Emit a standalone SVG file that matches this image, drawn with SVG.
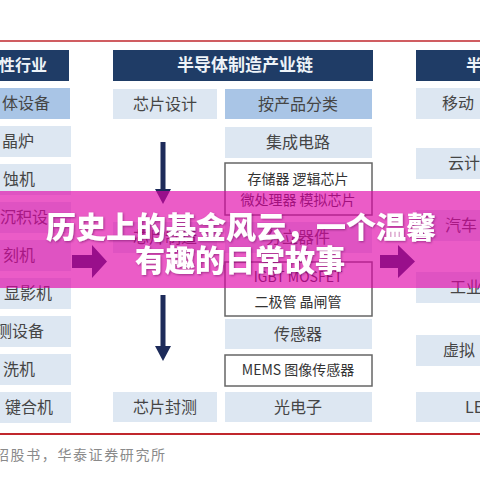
<svg xmlns="http://www.w3.org/2000/svg" width="480" height="480" viewBox="0 0 480 480">
<style>
text{font-family:"Noto Sans CJK SC","Noto Sans",sans-serif;}
.hd{fill:#1f3c66;}
.hdt{fill:#eef3f8;font-size:16px;font-weight:700;}
.lt{fill:#dde7f2;}
.md{fill:#a9c5e6;}
.ob{fill:#ffffff;stroke:#666666;stroke-width:1.5;}
.t{fill:#454545;font-size:16px;}
.ts{fill:#333333;font-size:14px;}
.c{text-anchor:middle;}
.e{text-anchor:end;}
.red{stroke:#c0272d;}
.arr{fill:#1d2b5a;}
.ttl{fill:#ffffff;font-size:30px;font-weight:900;text-anchor:middle;}
</style>
<defs>
<filter id="sh" x="-10%" y="-30%" width="120%" height="160%">
<feDropShadow dx="1" dy="1" stdDeviation="1" flood-color="#5a0050" flood-opacity="0.5"/>
</filter>
</defs>
<rect width="480" height="480" fill="#ffffff"/>
<line class="red" x1="0" y1="41" x2="480" y2="41" stroke-width="1.5"/>
<line class="red" x1="0" y1="434" x2="480" y2="434" stroke-width="2"/>

<g id="left-column">
<rect class="hd" x="-2" y="50" width="71" height="31"/>
<text class="hdt e" x="47" y="71">性行业</text>
<rect class="md" x="-2" y="88" width="72" height="31"/>
<text class="t e" x="50" y="109">体设备</text>
<rect class="lt" x="-2" y="126" width="73" height="31"/>
<text class="t e" x="34" y="147">晶炉</text>
<rect class="lt" x="-2" y="164" width="73" height="31"/>
<text class="t e" x="35" y="185">蚀机</text>
<rect class="lt" x="-2" y="202" width="73" height="31"/>
<text class="t e" x="48" y="223">沉积设</text>
<rect class="lt" x="-2" y="240" width="73" height="31"/>
<text class="t e" x="35" y="261">刻机</text>
<rect class="lt" x="-2" y="278" width="73" height="31"/>
<text class="t e" x="52" y="299">显影机</text>
<rect class="lt" x="-2" y="316" width="73" height="31"/>
<text class="t e" x="44" y="337">测设备</text>
<rect class="lt" x="-2" y="354" width="73" height="31"/>
<text class="t e" x="35" y="375">洗机</text>
<rect class="lt" x="-2" y="392" width="73" height="31"/>
<text class="t e" x="53" y="413">键合机</text>
</g>

<g id="chain-header">
<rect class="hd" x="113" y="50" width="260" height="31"/>
<text class="hdt c" x="245" y="71" style="font-size:17px">半导体制造产业链</text>
</g>

<g id="chip-design"><rect class="lt" x="113" y="89" width="104" height="30"/><text class="t c" x="165" y="110">芯片设计</text></g>
<g id="chip-making"><rect class="lt" x="113" y="222" width="104" height="31"/><text class="t c" x="165" y="243">芯片制造</text></g>
<g id="chip-packaging"><rect class="lt" x="113" y="392" width="104" height="30"/><text class="t c" x="165" y="413">芯片封测</text></g>

<g id="by-product"><rect class="md" x="225" y="89" width="147" height="30"/><text class="t c" x="298" y="110">按产品分类</text></g>
<g id="ic"><rect class="lt" x="225" y="127" width="147" height="31"/><text class="t c" x="298" y="148">集成电路</text></g>
<g id="ic-types"><rect class="ob" x="225" y="163" width="147" height="52"/><text class="ts c" x="298" y="184">存储器 逻辑芯片</text><text class="ts c" x="298" y="205">微处理器 模拟芯片</text></g>
<g id="discrete"><rect class="lt" x="225" y="222" width="147" height="31"/><text class="t c" x="298" y="243">分立器件</text></g>
<g id="discrete-types"><rect class="ob" x="225" y="262" width="147" height="54"/><text class="ts c" x="298" y="282">IGBT MOSFET</text><text class="ts c" x="298" y="307">二极管 晶闸管</text></g>
<g id="sensor"><rect class="lt" x="225" y="319" width="147" height="30"/><text class="t c" x="298" y="340">传感器</text></g>
<g id="sensor-types"><rect class="ob" x="225" y="355" width="147" height="31"/><text class="ts c" x="298" y="375">MEMS 图像传感器</text></g>
<g id="optoelectronics"><rect class="lt" x="225" y="392" width="147" height="30"/><text class="t c" x="298" y="413">光电子</text></g>

<g id="right-column">
<rect class="hd" x="416" y="50" width="66" height="31"/>
<text class="hdt" x="466" y="71">半</text>
<rect class="lt" x="416" y="88" width="66" height="31"/>
<text class="t" x="442" y="109">移动</text>
<rect class="lt" x="416" y="148" width="66" height="31"/>
<text class="t" x="448" y="169">云计</text>
<rect class="lt" x="416" y="210" width="66" height="31"/>
<text class="t" x="445" y="231">汽车</text>
<rect class="lt" x="416" y="272" width="66" height="31"/>
<text class="t" x="450" y="293">工业</text>
<rect class="lt" x="416" y="335" width="66" height="31"/>
<text class="t" x="443" y="356">虚拟</text>
<rect class="lt" x="416" y="392" width="66" height="30"/>
<text class="t" x="465" y="413">LE</text>
</g>

<g id="connectors">
<rect class="arr" x="160.5" y="142" width="5" height="49"/>
<polygon class="arr" points="155,189 171,189 163,204"/>
<rect class="arr" x="160.5" y="295" width="5" height="53"/>
<polygon class="arr" points="155,346 171,346 163,361"/>
<polygon class="arr" points="72,255 92,255 92,245 107,261.5 92,278 92,268 72,268"/>
<polygon class="arr" points="380,255 398,255 398,245 415,261.5 398,278 398,268 380,268"/>
</g>

<g id="banner">
<rect x="0" y="191" width="480" height="97" fill="#df00a8" fill-opacity="0.64"/>
<text class="ttl" x="241" y="238" filter="url(#sh)">历史上的基金风云，一个温馨</text>
<text class="ttl" x="240" y="271" filter="url(#sh)">有趣的日常故事</text>
</g>

<text x="-5" y="460" fill="#8a8a8a" style="font-size:14px;letter-spacing:1.6px">招股书，华泰证券研究所</text>
</svg>
